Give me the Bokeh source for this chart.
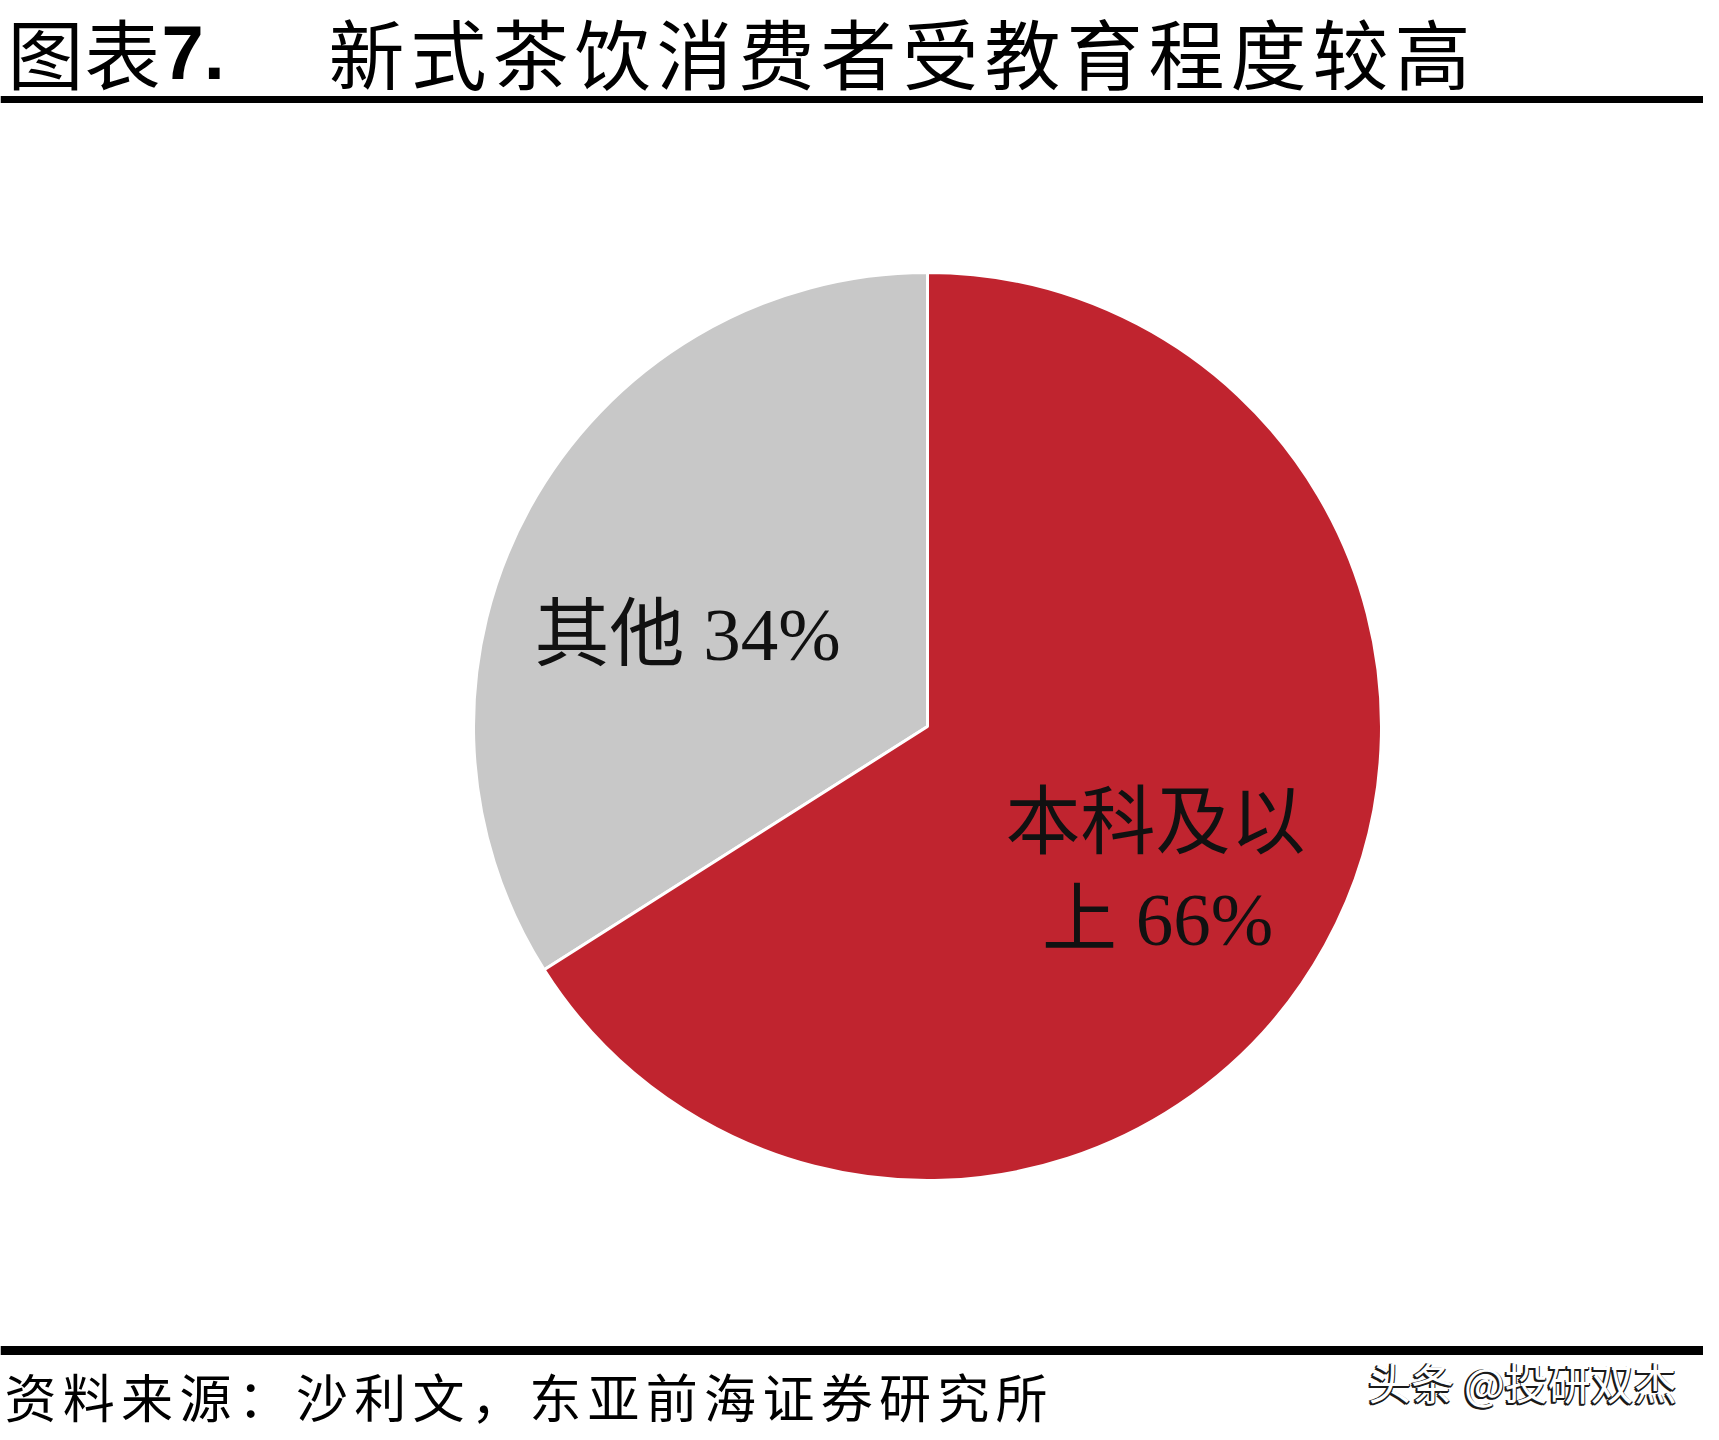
import math
from bokeh.plotting import figure
from bokeh.models import Range1d, Span, ColumnDataSource
from bokeh.core.properties import value
from bokeh.embed import file_html
from bokeh.resources import INLINE

# ---- data ----
categories = ["其他", "本科及以上"]
shares = [34, 66]
colors = ["#C8C8C8", "#C0242F"]
title_prefix = ["图", "表"]
title_num = "7."
title_main = list("新式茶饮消费者受教育程度较高")
source_note = list("资料来源：沙利文，东亚前海证券研究所")
watermark = "头条 @投研双杰"

# ---- figure in page-pixel coordinates ----
W, H = 1703, 1424
p = figure(width=W, height=H, x_range=Range1d(0, W), y_range=Range1d(1440 - H, 1440),
           output_backend="svg", toolbar_location=None,
           x_axis_type=None, y_axis_type=None, min_border=0)
p.outline_line_color = None
p.xgrid.visible = False
p.ygrid.visible = False
p.background_fill_color = "white"
p.border_fill_color = "white"


def Y(y):
    return 1440 - y


CJK = value("Noto Sans CJK SC")
MIX = value("Liberation Serif, Noto Sans CJK SC")

# ---- pie ----
cx, cy, r = 927, 726, 454
starts, ends = [], []
acc = 0.0
total = float(sum(shares))
for v in shares:
    starts.append(math.pi / 2 + 2 * math.pi * acc / total)
    acc += v
    ends.append(math.pi / 2 + 2 * math.pi * acc / total)
src = ColumnDataSource(dict(x=[cx] * len(shares), y=[Y(cy)] * len(shares),
                            s=starts, e=ends, c=colors))
p.wedge(x="x", y="y", radius=r, start_angle="s", end_angle="e", fill_color="c",
        line_color="white", line_width=3, direction="anticlock", source=src)

# ---- slice labels ----
lab_other = f"{categories[0]} {shares[0]}%"
p.text(x=[687], y=[Y(634)], text=[lab_other], text_font=MIX, text_font_size="75px",
       text_align="center", text_baseline="middle", text_color="#111111")
lab_main1 = categories[1][:4]
lab_main2 = f"{categories[1][4:]} {shares[1]}%"
p.text(x=[1155, 1157], y=[Y(822), Y(919)], text=[lab_main1, lab_main2], text_font=MIX,
       text_font_size="75px", text_align="center", text_baseline="middle", text_color="#111111")

# ---- title ----
p.text(x=[45, 122], y=[Y(50)] * 2, text=title_prefix, text_font=CJK, text_font_size="76px",
       text_align="center", text_baseline="middle", text_color="black")
p.text(x=[161], y=[Y(52)], text=[title_num], text_font=value("Liberation Sans"),
       text_font_style="bold", text_font_size="76px", text_align="left",
       text_baseline="middle", text_color="black")
pitch = 82
p.text(x=[366 + pitch * i for i in range(len(title_main))], y=[Y(50)] * len(title_main),
       text=title_main, text_font=CJK, text_font_size="76px",
       text_align="center", text_baseline="middle", text_color="black")

p.add_layout(Span(location=Y(99), dimension="width", line_color="black", line_width=7))
p.add_layout(Span(location=Y(1350), dimension="width", line_color="black", line_width=9))

# ---- source note ----
sp = 58.3
p.text(x=[30 + sp * i for i in range(len(source_note))], y=[Y(1395)] * len(source_note),
       text=source_note, text_font=CJK, text_font_size="52px",
       text_align="center", text_baseline="middle", text_color="black")

# ---- watermark (white text with dark edge) ----
for dx, dy in [(-2, 0), (-2, 2), (0, 2), (-1, 1), (1, 1)]:
    p.text(x=[1522 + dx], y=[Y(1380 + dy)], text=[watermark], text_font=CJK,
           text_font_size="43px", text_align="center", text_baseline="middle",
           text_color="#1a1a1a")
p.text(x=[1522], y=[Y(1380)], text=[watermark], text_font=CJK, text_font_size="43px",
       text_align="center", text_baseline="middle", text_color="white")

open("out.html", "w").write(file_html(p, INLINE))
